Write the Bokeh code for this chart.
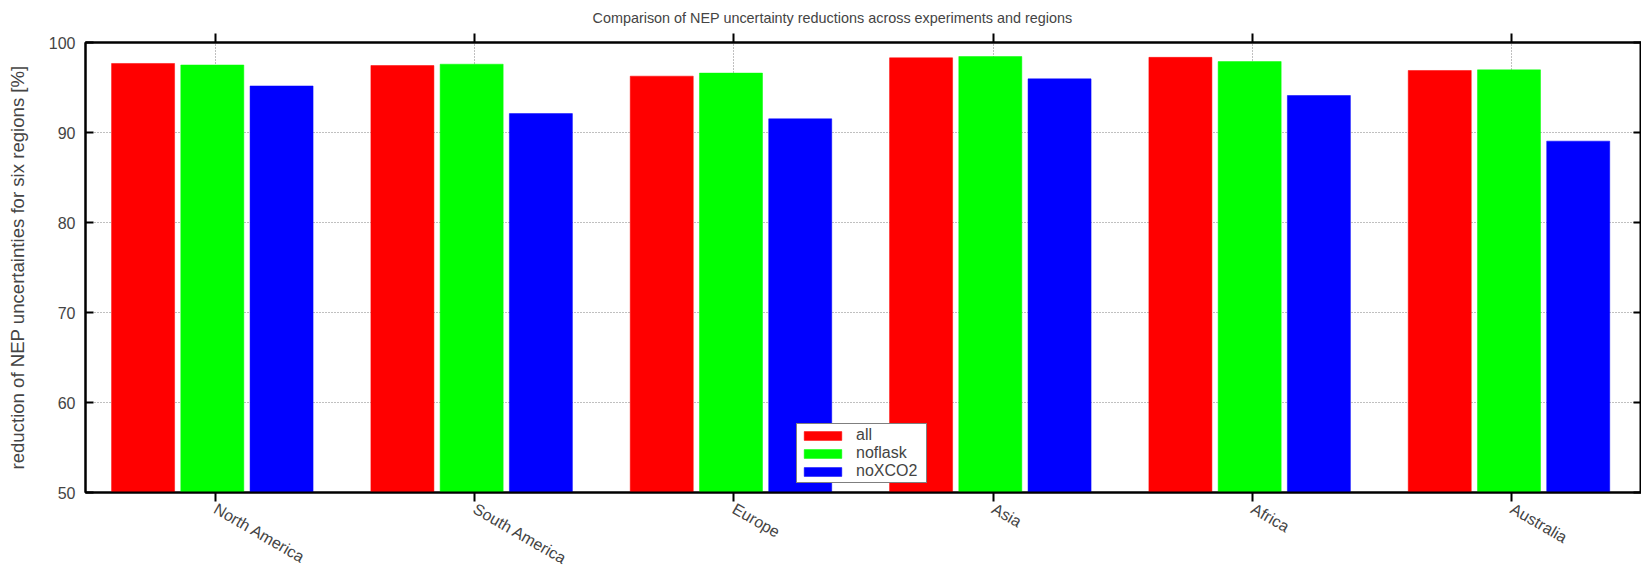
import math
from bokeh.plotting import figure
from bokeh.models import (Range1d, FixedTicker, LinearAxis, Legend, LegendItem,
                          ColumnDataSource, CustomJSTickFormatter)
from bokeh.embed import file_html
from bokeh.resources import INLINE

# ---- data ----
regions = ["North America", "South America", "Europe", "Asia", "Africa", "Australia"]
series_names = ["all", "noflask", "noXCO2"]
all_vals = [97.67, 97.44, 96.26, 98.30, 98.35, 96.89]
noflask_vals = [97.50, 97.59, 96.60, 98.44, 97.88, 96.96]
noxco2_vals = [95.17, 92.10, 91.52, 95.96, 94.11, 89.04]
y_ticks = [50, 60, 70, 80, 90, 100]

# ---- style ----
colors = ["#ff0000", "#00ff00", "#0000ff"]
offsets = [-0.278, -0.011, 0.256]
bar_width = 0.243
FONT = "Liberation Sans"
FS = "16px"

p = figure(width=1641, height=585, output_backend="svg", toolbar_location=None,
           x_range=Range1d(-0.5, len(regions) - 0.5), y_range=Range1d(50, 100),
           min_border_left=85, min_border_right=0, min_border_top=42,
           min_border_bottom=93,
           title="Comparison of NEP uncertainty reductions across experiments and regions")

p.title.text_font = FONT
p.title.text_font_size = "14.4px"
p.title.text_font_style = "normal"
p.title.align = "left"
p.title.offset = 507
p.title.standoff = 15

p.outline_line_color = "black"
p.outline_line_width = 2
p.background_fill_color = "white"
p.border_fill_color = "white"

xs = list(range(len(regions)))
renderers = []
for vals, col, off, name in zip([all_vals, noflask_vals, noxco2_vals], colors, offsets, series_names):
    src = ColumnDataSource(dict(x=[i + off for i in xs], top=vals, region=regions))
    r = p.vbar(x="x", top="top", bottom=50, width=bar_width, source=src,
               fill_color=col, line_color=col, line_width=0.5)
    renderers.append(r)

# x axis (bottom)
xa = p.xaxis[0]
xa.ticker = FixedTicker(ticks=xs)
xa.major_label_overrides = {i: regions[i] for i in xs}
xa.major_label_orientation = -math.pi / 6
xa.major_label_text_font = FONT
xa.major_label_text_font_size = FS
xa.major_label_standoff = 6
xa.major_tick_out = 9
xa.major_tick_in = 0
xa.major_tick_line_width = 2
xa.minor_tick_line_color = None
xa.axis_line_width = 2

# y axis (left)
ya = p.yaxis[0]
ya.ticker = FixedTicker(ticks=y_ticks)
ya.major_label_text_font = FONT
ya.major_label_text_font_size = FS
ya.major_label_standoff = 10
ya.major_tick_out = 0
ya.major_tick_in = 8
ya.major_tick_line_width = 2
ya.minor_tick_line_color = None
ya.axis_line_width = 2
ya.axis_label = "reduction of NEP uncertainties for six regions [%]"
ya.axis_label_text_font = FONT
ya.axis_label_text_font_size = "18.6px"
ya.axis_label_text_font_style = "normal"
ya.axis_label_standoff = 18

# mirrored axes (ticks only)
top_ax = LinearAxis(ticker=FixedTicker(ticks=xs), major_tick_out=9, major_tick_in=0,
                    major_tick_line_width=2, minor_tick_line_color=None,
                    formatter=CustomJSTickFormatter(code="return '';"),
                    major_label_standoff=0, axis_line_width=2)
p.add_layout(top_ax, "above")
right_ax = LinearAxis(ticker=FixedTicker(ticks=y_ticks), major_tick_out=0, major_tick_in=8,
                      major_tick_line_width=2, minor_tick_line_color=None,
                      formatter=CustomJSTickFormatter(code="return '';"),
                      major_label_standoff=0, axis_line_width=2)
p.add_layout(right_ax, "right")

# grids
p.xgrid.ticker = FixedTicker(ticks=xs)
p.ygrid.ticker = FixedTicker(ticks=y_ticks)
for g in (p.xgrid[0], p.ygrid[0]):
    g.grid_line_color = "#808080"
    g.grid_line_dash = "1 2"
    g.grid_line_width = 1

# legend
legend = Legend(items=[LegendItem(label=n, renderers=[r]) for n, r in zip(series_names, renderers)],
                location=(711, 9), orientation="vertical")
legend.border_line_color = "black"
legend.border_line_width = 1.5
legend.background_fill_color = "white"
legend.background_fill_alpha = 1
legend.label_text_font = FONT
legend.label_text_font_size = FS
legend.glyph_width = 47
legend.glyph_height = 11
legend.label_height = 16
legend.label_width = 68
legend.spacing = 0
legend.padding = 2
legend.margin = 0
legend.label_standoff = 10
p.add_layout(legend, "center")

open("out.html", "w").write(file_html(p, INLINE))
